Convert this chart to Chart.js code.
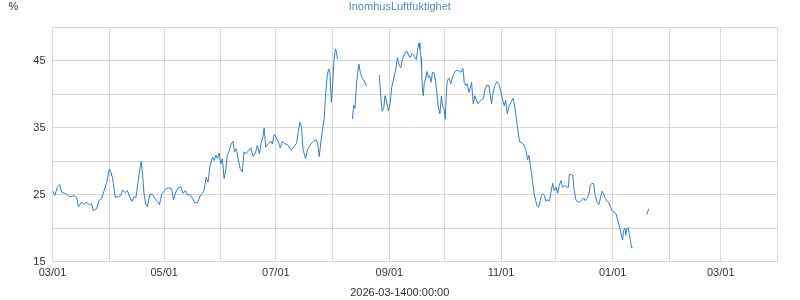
<!DOCTYPE html>
<html>
<head>
<meta charset="utf-8">
<title>InomhusLuftfuktighet</title>
<script src="https://cdn.jsdelivr.net/npm/chart.js@4/dist/chart.umd.min.js"></script>
<style>
    html, body { margin: 0; padding: 0; background: #fff; }
    #humidityChart { display: block; }
</style>
</head>
<body>
<canvas id="humidityChart" width="800" height="300"></canvas>
<script>
// Days counted from 2025-03-01, null = gap in logging
const days = [
    0, 1.3, 2.6, 4, 5.1, 6.8, 8, 9.5, 12.2, 13.1, 14.2, 15.9, 17.2, 18.6, 20, 21.4, 22.3, 24.1, 25.5, 26.8,
    28.1, 29.6, 31, 31.8, 32.8, 34.3, 35.9, 37.2, 38.3, 39.6, 40.9, 42.3, 43.4, 44.5, 45.6, 46.7, 47.8, 48.5, 49.3, 50,
    50.9, 51.8, 53.3, 54.7, 56, 57.3, 58.4, 59.7, 60.9, 62.2, 63.5, 65, 66.1, 67.4, 68.6, 70.1, 71.2, 72.6, 73.7, 75.2,
    76.5, 77.7, 79.2, 80.6, 81.9, 82.8, 83.9, 85, 86.1, 87.4, 88.3, 89.2, 90.1, 91, 91.9, 92.8, 93.7, 94.6, 95.5, 96.4,
    97.3, 98.6, 99.4, 100.5, 101.2, 102.5, 103.7, 104.6, 105.7, 106.8, 108.3, 109.7, 111, 111.9, 113, 114.1, 114.9, 115.6, 116.5, 117.8,
    119.2, 120.1, 121.1, 122.2, 123.3, 124.4, 125.6, 126.9, 128.4, 129.6, 130.5, 132, 133.3, 134.2, 135.1, 136, 136.9, 138.2, 139.3, 140.6,
    142.4, 143.9, 144.8, 145.7, 146.6, 147.5, 148.4, 149.3, 150.1, 150.8, 151.5, 152.3, 153, 153.7, 154.5, 155, 155.6, 159,
    163.8, 164.5, 165.2, 166, 166.7, 167.4, 168.1, 169.2, 170.3, 171.4, 175,
    178.5, 179.2, 180, 180.9, 181.6, 182.6, 183.5, 184.4, 185.3, 186.4, 187.5, 188.4, 189.3, 190.2, 191.1, 192.2, 193.4, 194.3, 195.2, 196.5,
    197.6, 198.7, 199.4, 200.2, 200.7, 201.3, 201.6, 202, 202.5, 203.1, 203.8, 204.5, 205.3, 206, 206.7, 207.6, 208.5, 209.4, 210, 210.7,
    211.6, 212.4, 213.1, 213.8, 214.5, 215.1, 215.6, 216.5, 217.6, 218.7, 219.8, 220.9, 222, 223.1, 224.2, 224.9, 225.8, 226.5, 227.5, 228.2,
    228.9, 229.8, 230.7, 231.6, 232.5, 234, 235.4, 236.2, 237.3, 238.4, 239.1, 239.8, 240.7, 241.6, 242.7, 243.8, 244.9, 245.8, 246.7, 247.5,
    248.4, 249.3, 250.4, 251.5, 252.2, 253.1, 254, 255.1, 256.2, 257.6, 258.6, 259.5, 260.2, 260.9, 261.7, 262.4, 263.1, 263.9, 264.6, 265.5,
    266.4, 267.2, 267.9, 268.6, 269.3, 270.4, 271.5, 272.3, 273.2, 274.1, 275, 275.9, 276.8, 277.7, 278.6, 279.6, 280.7, 281.8, 282.3, 283.2,
    284.1, 285, 285.9, 286.9, 288, 289.1, 290.1, 290.9, 292, 292.9, 293.8, 294.7, 295.6, 296.4, 297.4, 298.4, 299.3, 300.2, 301.1, 302,
    302.9, 303.8, 304.7, 305.6, 306.6, 307.7, 308.4, 309.1, 309.9, 310.6, 311.4, 311.9, 312.7, 313.1, 313.7, 314.4, 315, 315.7, 316.2, 316.4,
    320, 324.5, 325.7
];
const humidity = [
    25.6, 24.9, 26.1, 26.5, 25.3, 25.2, 24.95, 24.7, 24.85, 24.6, 23.2, 23.9, 23.5, 23.9, 23.5, 23.6, 22.6, 22.9, 24.2, 24.4,
    25.5, 26.8, 28.8, 28.4, 27.5, 24.6, 24.7, 24.85, 25.7, 25.3, 25.6, 24.6, 24.0, 24.7, 24.6, 26.8, 29.0, 30.0, 27.8, 25.1,
    23.6, 23.2, 25.1, 25.0, 24.4, 24.0, 23.5, 25.1, 25.5, 25.9, 26.0, 25.9, 24.2, 25.4, 26.0, 26.2, 25.2, 25.6, 25.0, 25.0,
    24.4, 23.8, 23.8, 24.8, 25.2, 25.7, 27.6, 26.9, 29.4, 30.6, 30.1, 30.9, 30.4, 31.2, 29.6, 30.4, 27.4, 28.6, 30.9, 31.4,
    32.4, 33.0, 31.4, 31.9, 30.6, 28.9, 28.4, 31.4, 31.1, 31.5, 32.0, 30.7, 31.4, 32.4, 31.1, 32.9, 33.6, 35.0, 32.1, 32.6,
    33.0, 32.6, 34.0, 33.5, 32.9, 32.0, 33.0, 32.6, 32.5, 31.9, 31.7, 32.2, 32.7, 34.4, 35.8, 35.1, 31.7, 30.4, 31.7, 32.4,
    33.0, 33.2, 32.7, 30.7, 32.9, 34.7, 36.4, 40.6, 42.8, 43.8, 43.3, 38.8, 41.3, 45.0, 46.8, 46.5, 45.3, null,
    36.3, 38.4, 37.9, 41.3, 43.3, 44.5, 43.3, 42.4, 42.0, 41.3, null,
    42.9, 40.1, 37.5, 37.9, 39.8, 38.8, 37.5, 38.6, 41.1, 42.4, 43.8, 45.5, 44.4, 44.0, 45.2, 46.0, 46.5, 46.0, 45.5, 46.1,
    45.7, 45.2, 46.7, 47.7, 46.7, 45.5, 43.8, 41.1, 39.8, 41.8, 42.3, 43.4, 42.5, 42.8, 41.8, 43.3, 43.2, 41.6, 40.1, 38.1,
    37.1, 39.7, 38.1, 37.9, 36.3, 39.9, 42.0, 42.4, 41.6, 42.8, 43.4, 43.6, 43.5, 43.3, 43.9, 41.8, 41.3, 41.6, 40.3, 40.9,
    41.8, 38.6, 39.8, 39.1, 38.6, 39.1, 39.4, 40.7, 41.4, 41.3, 39.9, 38.6, 40.3, 41.3, 41.9, 41.6, 40.4, 39.3, 38.3, 39.1,
    37.1, 38.1, 38.8, 39.4, 38.6, 36.9, 35.0, 32.9, 32.8, 32.4, 31.6, 30.2, 30.9, 29.6, 28.1, 26.6, 25.1, 24.1, 23.4, 23.1,
    24.1, 24.9, 25.1, 24.9, 24.1, 24.2, 24.1, 25.4, 26.7, 25.6, 26.1, 25.2, 26.4, 27.1, 26.1, 26.4, 26.2, 26.1, 28.0, 28.0,
    27.9, 25.6, 24.2, 23.9, 23.9, 24.2, 24.5, 24.1, 24.5, 25.0, 26.4, 26.7, 26.6, 24.9, 23.9, 23.5, 24.5, 25.5, 25.1, 24.4,
    24.0, 23.9, 23.2, 22.6, 22.4, 22.2, 21.5, 20.9, 20.0, 19.1, 18.2, 19.6, 20.0, 18.9, 19.9, 20.1, 19.2, 18.1, 17.2, 17.0,
    null, 22.0, 22.9
];

// Month starts (days from 2025-03-01) and their labels, every second one shown
const monthStarts = [0, 31, 61, 92, 122, 153, 184, 214, 245, 275, 306, 337, 365, 396];
const monthLabels = ['03/01', '', '05/01', '', '07/01', '', '09/01', '', '11/01', '', '01/01', '', '03/01', ''];
const yLabelValues = [15, 25, 35, 45];

const chartTitle = 'InomhusLuftfuktighet';
const xTitle = '2026-03-1400:00:00';
const yTitle = '%';

const FONT_FAMILY = '"Liberation Sans", Arial, sans-serif';
const TEXT_COLOR = '#333333';
const GRID_COLOR = '#d9d9d9';
const LINE_COLOR = '#3a7dbd';

// Unit label in the top left corner, drawn horizontally
const unitLabel = {
    id: 'unitLabel',
    afterDraw(chart) {
        const ctx = chart.ctx;
        ctx.save();
        ctx.font = `11px ${FONT_FAMILY}`;
        ctx.fillStyle = TEXT_COLOR;
        ctx.textAlign = 'center';
        ctx.textBaseline = 'middle';
        ctx.fillText(yTitle, 13.5, 6.6);
        ctx.restore();
    }
};

function DrawGraph() {
    const points = days.map((d, i) => ({ x: d, y: humidity[i] }));

    const config = {
        type: 'line',
        data: {
            datasets: [{
                label: chartTitle,
                data: points,
                borderColor: LINE_COLOR,
                backgroundColor: LINE_COLOR,
                borderWidth: 1,
                pointRadius: 0,
                tension: 0,
                spanGaps: false
            }]
        },
        options: {
            responsive: false,
            animation: false,
            devicePixelRatio: 1,
            layout: { padding: { left: 22, right: 22.5, top: 0, bottom: 0 } },
            plugins: {
                legend: { display: false },
                tooltip: { enabled: false },
                title: {
                    display: true,
                    text: chartTitle,
                    color: '#4f8cc9',
                    font: { family: FONT_FAMILY, size: 11, weight: 'normal' },
                    padding: { top: 0, bottom: 14.3 }
                },
                subtitle: {
                    display: true,
                    position: 'bottom',
                    text: xTitle,
                    color: TEXT_COLOR,
                    font: { family: FONT_FAMILY, size: 11, weight: 'normal' },
                    padding: { top: 5.3, bottom: 0 }
                }
            },
            scales: {
                x: {
                    type: 'linear',
                    min: 0,
                    max: 396,
                    afterBuildTicks: (scale) => { scale.ticks = monthStarts.map(v => ({ value: v })); },
                    afterFit: (scale) => { scale.height = 20; },
                    ticks: {
                        autoSkip: false,
                        maxRotation: 0,
                        padding: 5,
                        color: TEXT_COLOR,
                        font: { family: FONT_FAMILY, size: 11 },
                        callback: (value, index) => monthLabels[index]
                    },
                    grid: { color: GRID_COLOR, drawTicks: false },
                    border: { color: GRID_COLOR }
                },
                y: {
                    min: 15,
                    max: 50,
                    afterFit: (scale) => { scale.width = 30.5; },
                    ticks: {
                        stepSize: 5,
                        padding: 7,
                        color: TEXT_COLOR,
                        font: { family: FONT_FAMILY, size: 11 },
                        callback: (value) => (yLabelValues.includes(value) ? value : '')
                    },
                    grid: { color: GRID_COLOR, drawTicks: false },
                    border: { color: GRID_COLOR }
                }
            }
        },
        plugins: [unitLabel]
    };

    new Chart(document.getElementById('humidityChart'), config);
}

DrawGraph();
</script>
</body>
</html>
